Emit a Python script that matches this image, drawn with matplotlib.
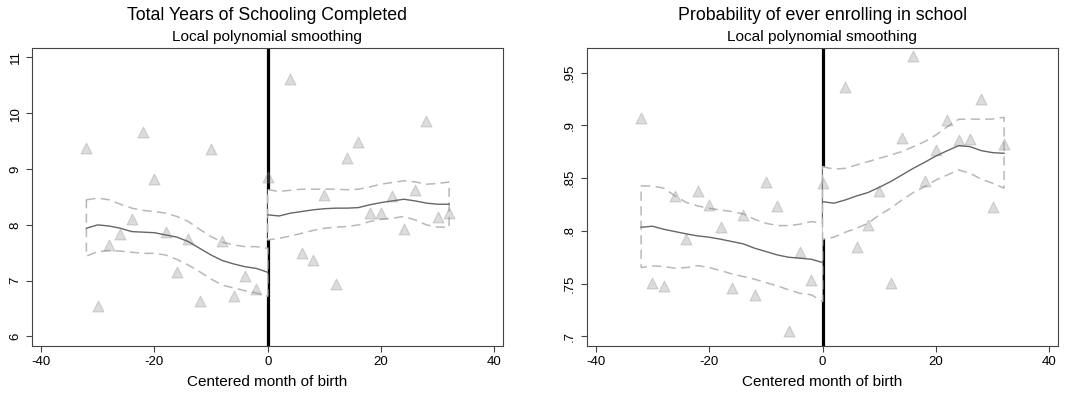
import matplotlib
matplotlib.use("Agg")
import matplotlib.pyplot as plt
from matplotlib.patches import Polygon
import numpy as np

plt.rcParams['font.family'] = ['Liberation Sans', 'DejaVu Sans']

# ---------------- data ----------------
months = [-32, -30, -28, -26, -24, -22, -20, -18, -16, -14, -12, -10, -8, -6, -4, -2, 0,
          4, 6, 8, 10, 12, 14, 16, 18, 20, 22, 24, 26, 28, 30, 32]

school_pts = [9.37, 6.54, 7.64, 7.84, 8.11, 9.67, 8.83, 7.88, 7.16, 7.74, 6.63, 9.36, 7.72,
              6.73, 7.09, 6.85, 8.86,
              10.61, 7.50, 7.37, 8.54, 6.94, 9.19, 9.49, 8.22, 8.21, 8.52, 7.92, 8.63, 9.87,
              8.15, 8.21]

enroll_pts = [0.907, 0.751, 0.748, 0.833, 0.792, 0.838, 0.825, 0.804, 0.746, 0.815, 0.739,
              0.846, 0.824, 0.705, 0.780, 0.754, 0.845,
              0.936, 0.785, 0.806, 0.838, 0.751, 0.888, 0.966, 0.847, 0.877, 0.905, 0.886,
              0.887, 0.925, 0.823, 0.882]

grid_left = [-32, -30, -28, -26, -24, -22, -20, -18, -16, -14, -12, -10, -8, -6, -4, -2, 0]
grid_right = [0, 2, 4, 6, 8, 10, 12, 14, 16, 18, 20, 22, 24, 26, 28, 30, 32]

# Years of schooling: smooth + CI
school_fit_l = [7.94, 8.00, 7.98, 7.94, 7.88, 7.87, 7.86, 7.82, 7.78, 7.70, 7.58, 7.46, 7.36,
                7.30, 7.25, 7.22, 7.15]
school_hi_l = [8.45, 8.48, 8.45, 8.37, 8.30, 8.26, 8.24, 8.21, 8.15, 8.06, 7.92, 7.79, 7.69,
               7.64, 7.61, 7.61, 7.58]
school_lo_l = [7.44, 7.52, 7.54, 7.53, 7.51, 7.49, 7.49, 7.46, 7.38, 7.28, 7.16, 7.03, 6.92,
               6.87, 6.82, 6.78, 6.72]
school_fit_r = [8.18, 8.16, 8.21, 8.24, 8.27, 8.29, 8.30, 8.30, 8.31, 8.36, 8.40, 8.43, 8.46,
                8.43, 8.39, 8.37, 8.37]
school_hi_r = [8.63, 8.60, 8.62, 8.64, 8.64, 8.64, 8.64, 8.63, 8.64, 8.68, 8.73, 8.76, 8.79,
               8.77, 8.73, 8.74, 8.77]
school_lo_r = [7.73, 7.76, 7.80, 7.85, 7.90, 7.94, 7.96, 7.97, 8.00, 8.06, 8.10, 8.12, 8.15,
               8.09, 8.00, 7.96, 7.96]

# Enrollment probability: smooth + CI
enroll_fit_l = [0.8035, 0.8045, 0.8016, 0.7994, 0.7972, 0.7953, 0.7941, 0.7922, 0.7900,
                0.7878, 0.7837, 0.7805, 0.7773, 0.7751, 0.7742, 0.7732, 0.7701]
enroll_hi_l = [0.8427, 0.8427, 0.8405, 0.8332, 0.8269, 0.8237, 0.8215, 0.8199, 0.8184,
               0.8162, 0.8111, 0.8073, 0.8051, 0.8051, 0.8064, 0.8089, 0.8073]
enroll_lo_l = [0.7653, 0.7669, 0.7663, 0.7647, 0.7653, 0.7672, 0.7653, 0.7625, 0.7593,
               0.7568, 0.7543, 0.7511, 0.7480, 0.7442, 0.7410, 0.7395, 0.7331]
enroll_fit_r = [0.8278, 0.8263, 0.8294, 0.8332, 0.8364, 0.8414, 0.8468, 0.8531, 0.8594,
                0.8651, 0.8711, 0.8761, 0.8809, 0.8799, 0.8761, 0.8742, 0.8736]
enroll_hi_r = [0.8610, 0.8585, 0.8594, 0.8626, 0.8657, 0.8689, 0.8720, 0.8752, 0.8799,
               0.8847, 0.8910, 0.8989, 0.9058, 0.9061, 0.9058, 0.9061, 0.9077]
enroll_lo_r = [0.7922, 0.7941, 0.7988, 0.8026, 0.8073, 0.8152, 0.8215, 0.8294, 0.8364,
               0.8420, 0.8484, 0.8531, 0.8578, 0.8547, 0.8490, 0.8452, 0.8405]

school_yticks = [6, 7, 8, 9, 10, 11]
school_ylabels = ["6", "7", "8", "9", "10", "11"]
enroll_yticks = [0.70, 0.75, 0.80, 0.85, 0.90, 0.95]
enroll_ylabels = [".7", ".75", ".8", ".85", ".9", ".95"]
xticks = [-40, -20, 0, 20, 40]

titles = ["Total Years of Schooling Completed", "Probability of ever enrolling in school"]
subtitle = "Local polynomial smoothing"
xlabel = "Centered month of birth"

# ---------------- figure ----------------
fig = plt.figure(figsize=(10.8, 3.96), dpi=100)
axL = fig.add_axes([0.0296, 0.1263, 0.4361, 0.7525])
axR = fig.add_axes([0.5432, 0.1263, 0.4364, 0.7525])

panels = [
    (axL, school_pts, (school_fit_l, school_hi_l, school_lo_l),
     (school_fit_r, school_hi_r, school_lo_r), (5.83, 11.17), school_yticks, school_ylabels,
     titles[0]),
    (axR, enroll_pts, (enroll_fit_l, enroll_hi_l, enroll_lo_l),
     (enroll_fit_r, enroll_hi_r, enroll_lo_r), (0.691, 0.9734), enroll_yticks, enroll_ylabels,
     titles[1]),
]

for ax, pts, left, right, ylim, yt, yl, title in panels:
    ax.axvline(0, color='black', lw=2.3, zorder=1)
    for grid, (fit, hi, lo) in ((grid_left, left), (grid_right, right)):
        verts = list(zip(grid, hi)) + list(zip(grid[::-1], lo[::-1]))
        poly = Polygon(verts, closed=True, facecolor='white', edgecolor='#b8b8b8',
                       lw=1.1, ls=(0, (6, 3.5)), zorder=2)
        ax.add_patch(poly)
    ax.scatter(months, pts, marker='^', s=62, facecolor=(0.55, 0.55, 0.55, 0.30),
               edgecolor=(0.55, 0.55, 0.55, 0.33), lw=0.8, zorder=3)
    for grid, (fit, hi, lo) in ((grid_left, left), (grid_right, right)):
        ax.plot(grid, fit, color='#666666', lw=1.0, zorder=4)

    ax.set_xlim(-41.6, 41.5)
    ax.set_ylim(*ylim)
    ax.set_xticks(xticks)
    ax.set_xticklabels([str(t) for t in xticks], fontsize=9.5)
    ax.set_yticks(yt)
    ax.set_yticklabels(yl, rotation=90, va='center', fontsize=9.5)
    ax.tick_params(direction='out', length=4.5, width=0.8, color='#444444', pad=3)
    for s in ax.spines.values():
        s.set_color('#444444')
        s.set_linewidth(0.8)
    ax.set_xlabel(xlabel, fontsize=11, labelpad=5)
    ax.text(0.5, 1.108, title, transform=ax.transAxes, ha='center', va='center',
            fontsize=12.8)
    ax.text(0.5, 1.036, subtitle, transform=ax.transAxes, ha='center', va='center',
            fontsize=11.1)

fig.savefig("out.png", dpi=100)
